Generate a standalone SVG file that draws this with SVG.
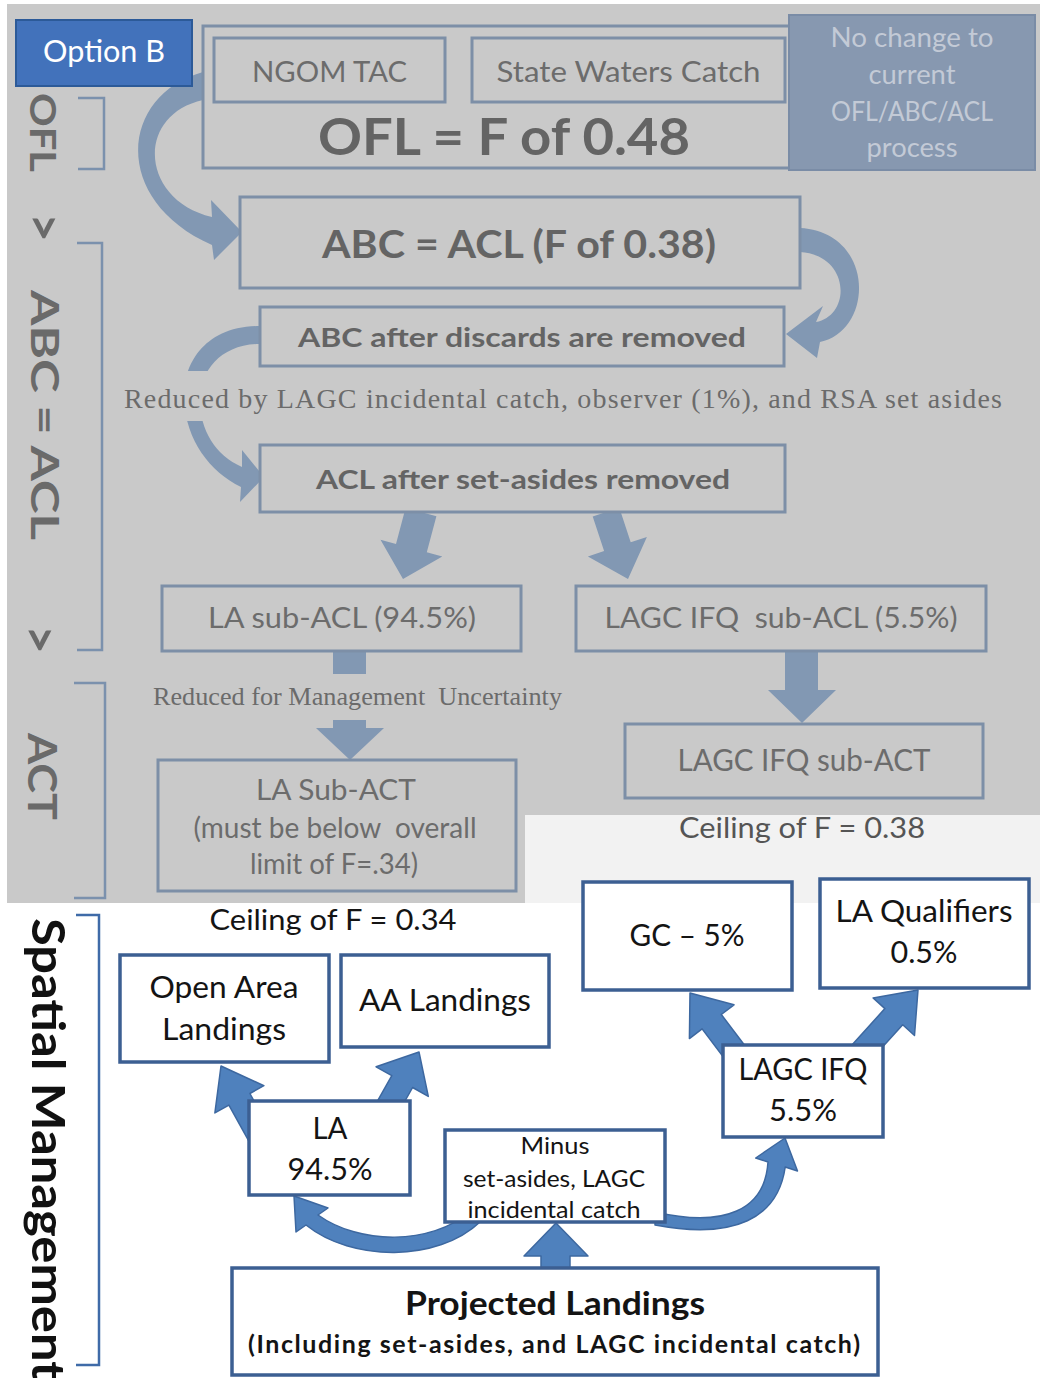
<svg xmlns="http://www.w3.org/2000/svg" width="1040" height="1378" viewBox="0 0 1040 1378">
<style>
.s{font-family:Lato,'Liberation Sans',sans-serif}
.tm{font-family:'Liberation Serif','Times New Roman',serif;fill:#6b6b6b}
.gbox{fill:#c9c9c9;stroke:#7d8fa7;stroke-width:3}
.gt{fill:#6c6c6c}
.gb{fill:#646464;font-weight:bold}
.wbox{fill:#fff;stroke:#3c5f92;stroke-width:3.5}
.bt{fill:#141414}
.at{fill:#8298b3}
.ab{fill:#4f81bd;stroke:#3d68a0;stroke-width:1.5;stroke-linejoin:round}
.br{fill:none;stroke:#7b91ad;stroke-width:2.5}
.lbl{fill:#6a6a6a;font-weight:bold}
</style>
<rect x="0" y="0" width="1040" height="1378" fill="#ffffff"/>
<path d="M7,4 H1040 V815 H525 V903 H7 Z" fill="#c9c9c9"/>
<rect x="525" y="815" width="515" height="88" fill="#f2f2f2"/>

<g id="connectors">
  <path class="at" d="M203,72 C120,95 110,200 212,245 L214,260 L242,232 L211,200 L212,217 C140,200 135,115 203,100 Z"/>
  <path class="at" d="M800,228 C875,232 875,330 820,342 L817,358 L786,334 L823,306 L816,322 C852,315 850,255 800,252 Z"/>
  <path class="at" d="M260,326 C200,326 182,370 184,400 C186,440 210,472 241,487 L240,502 L264,477 L242,450 L242,467 C215,455 200,430 200,400 C200,370 222,344 260,344 Z"/>
  <polygon class="at" points="405.6,507.8 396,543.9 380.5,539.7 403,579 442.3,556.5 426.8,552.3 436.4,516.2"/>
  <polygon class="at" points="592.7,516.4 604.1,551.1 587.9,556.4 628,579 646.9,537 630.7,542.3 619.3,507.6"/>
  <polygon class="at" points="333,651 366,651 366,728 384,728 350,760 316,728 333,728"/>
  <polygon class="at" points="785,651 818,651 818,690 836,690 802,723 768,690 785,690"/>

  <polygon class="ab" points="272.5,1134.2 249.9,1093.5 263.9,1085.7 221,1066 214.9,1112.9 228.9,1105.1 251.5,1145.8"/>
  <polygon class="ab" points="395.4,1117.9 412.6,1087.5 428.3,1096.4 419,1052 376.1,1066.8 391.8,1075.7 374.6,1106.1"/>
  <polygon class="ab" points="761.6,1067.8 721.3,1014.5 734,1004.8 690,993 689.4,1038.6 702.1,1028.9 742.4,1082.2"/>
  <polygon class="ab" points="858.9,1073.1 902.7,1024.8 914.5,1035.5 918,990 873.1,997.9 884.9,1008.6 841.1,1056.9"/>
  <path class="ab" d="M470,1212 C430,1245 360,1245 318,1215 L328,1208 L294,1196 L296,1232 L306,1225 C352,1262 438,1262 480,1222 Z"/>
  <path class="ab" d="M655,1212 C725,1228 765,1210 768,1162 L755.7,1158 L785,1138 L797.5,1171 L785.2,1167 C778,1218 735,1240 655,1225 Z"/>
  <polygon class="ab" points="541,1270 541,1256 524,1256 556,1223 588,1256 570,1256 570,1270"/>
</g>

<g id="side-labels">
  <text class="s lbl" font-size="36" textLength="79" lengthAdjust="spacingAndGlyphs" transform="translate(30,93) rotate(90)">OFL</text>
  <text class="s lbl" font-size="50" transform="translate(27,213) rotate(90)">&gt;</text>
  <text class="s lbl" font-size="38" textLength="250" lengthAdjust="spacingAndGlyphs" transform="translate(31,290) rotate(90)">ABC = ACL</text>
  <text class="s lbl" font-size="50" transform="translate(23,625) rotate(90)">&gt;</text>
  <text class="s lbl" font-size="40" textLength="87" lengthAdjust="spacingAndGlyphs" transform="translate(28,733) rotate(90)">ACT</text>
  <text class="s" font-size="46" font-weight="bold" fill="#111" textLength="462" lengthAdjust="spacingAndGlyphs" transform="translate(32,918) rotate(90)">Spatial Management</text>
  <path class="br" d="M78,98 H104 V169 H78"/>
  <path class="br" d="M77,243 H102 V650 H77"/>
  <path class="br" d="M74,683 H105 V898 H74"/>
  <path class="br" d="M76,915 H99 V1365 H76" style="stroke:#3f6ba8"/>
</g>

<g id="ofl">
  <rect class="gbox" x="203" y="26" width="597" height="142"/>
  <text class="s gb" x="504" y="155" font-size="51" text-anchor="middle" textLength="372" lengthAdjust="spacingAndGlyphs">OFL = F of 0.48</text>
</g>
<g id="ngom-tac">
  <rect class="gbox" x="214" y="38" width="231" height="64"/>
  <text class="s gt" x="329.5" y="82" font-size="28" text-anchor="middle" textLength="155" lengthAdjust="spacingAndGlyphs">NGOM TAC</text>
</g>
<g id="state-waters">
  <rect class="gbox" x="472" y="38" width="313" height="64"/>
  <text class="s gt" x="628.5" y="82" font-size="28" text-anchor="middle" textLength="264" lengthAdjust="spacingAndGlyphs">State Waters Catch</text>
</g>
<g id="no-change">
  <rect x="789" y="15" width="246" height="155" fill="#8798b0" stroke="#7a8ca6" stroke-width="2"/>
  <g class="s" font-size="26" fill="#c3cad6" text-anchor="middle">
    <text x="912" y="47" textLength="163" lengthAdjust="spacingAndGlyphs">No change to</text>
    <text x="912" y="84" textLength="87" lengthAdjust="spacingAndGlyphs">current</text>
    <text x="912" y="121" textLength="162" lengthAdjust="spacingAndGlyphs">OFL/ABC/ACL</text>
    <text x="912" y="157" textLength="91" lengthAdjust="spacingAndGlyphs">process</text>
  </g>
</g>
<g id="option-b">
  <rect x="16" y="20" width="176" height="66" fill="#4272bb" stroke="#2c5a98" stroke-width="2"/>
  <text class="s" x="104" y="62" font-size="30" fill="#ffffff" text-anchor="middle" textLength="122" lengthAdjust="spacingAndGlyphs">Option B</text>
</g>
<g id="abc-acl">
  <rect class="gbox" x="240" y="197" width="560" height="91"/>
  <text class="s gb" x="519" y="258" font-size="38" text-anchor="middle" textLength="394" lengthAdjust="spacingAndGlyphs">ABC = ACL (F of 0.38)</text>
</g>
<g id="abc-discards">
  <rect class="gbox" x="260" y="307" width="524" height="59"/>
  <text class="s gb" x="522" y="347" font-size="27" text-anchor="middle" textLength="448" lengthAdjust="spacingAndGlyphs">ABC after discards are removed</text>
</g>
<g id="reduced-label">
  <rect x="112" y="371" width="898" height="50" fill="#c9c9c9"/>
  <text class="tm" x="124" y="408" font-size="28" textLength="878" lengthAdjust="spacing">Reduced by LAGC incidental catch, observer (1%), and RSA set asides</text>
</g>
<g id="acl-setasides">
  <rect class="gbox" x="260" y="445" width="525" height="67"/>
  <text class="s gb" x="523" y="489" font-size="27" text-anchor="middle" textLength="414" lengthAdjust="spacingAndGlyphs">ACL after set-asides removed</text>
</g>
<g id="la-sub-acl">
  <rect class="gbox" x="162" y="586" width="359" height="65"/>
  <text class="s gt" x="342" y="628" font-size="28" text-anchor="middle" textLength="268" lengthAdjust="spacingAndGlyphs">LA sub-ACL (94.5%)</text>
</g>
<g id="lagc-sub-acl">
  <rect class="gbox" x="576" y="586" width="410" height="65"/>
  <text class="s gt" x="781" y="628" font-size="28" text-anchor="middle" textLength="353" lengthAdjust="spacingAndGlyphs">LAGC IFQ&#160; sub-ACL (5.5%)</text>
</g>
<g id="mgmt-label">
  <rect x="148" y="674" width="420" height="46" fill="#c9c9c9"/>
  <text class="tm" x="153" y="705" font-size="25" textLength="409" lengthAdjust="spacingAndGlyphs">Reduced for Management&#160; Uncertainty</text>
</g>
<g id="la-sub-act">
  <rect class="gbox" x="158" y="760" width="358" height="131"/>
  <g class="s gt" font-size="28" text-anchor="middle">
    <text x="336" y="800" textLength="160" lengthAdjust="spacingAndGlyphs">LA Sub-ACT</text>
    <text x="335" y="838" textLength="283" lengthAdjust="spacingAndGlyphs">(must be below&#160; overall</text>
    <text x="334" y="874" textLength="168" lengthAdjust="spacingAndGlyphs">limit of F=.34)</text>
  </g>
</g>
<g id="lagc-sub-act">
  <rect class="gbox" x="625" y="724" width="358" height="74"/>
  <text class="s gt" x="804" y="771" font-size="30" text-anchor="middle" textLength="253" lengthAdjust="spacingAndGlyphs">LAGC IFQ sub-ACT</text>
</g>
<g id="ceiling-038">
  <text class="s" x="802" y="838" font-size="29" fill="#555" text-anchor="middle" textLength="246" lengthAdjust="spacingAndGlyphs">Ceiling of F = 0.38</text>
</g>
<g id="ceiling-034">
  <text class="s bt" x="333" y="930" font-size="29" text-anchor="middle" textLength="247" lengthAdjust="spacingAndGlyphs">Ceiling of F = 0.34</text>
</g>

<g id="gc">
  <rect class="wbox" x="583" y="882" width="209" height="108"/>
  <text class="s bt" x="687" y="946" font-size="30" text-anchor="middle" textLength="115" lengthAdjust="spacingAndGlyphs">GC – 5%</text>
</g>
<g id="la-qualifiers">
  <rect class="wbox" x="820" y="879" width="209" height="109"/>
  <g class="s bt" font-size="30" text-anchor="middle">
    <text x="924" y="922" textLength="177" lengthAdjust="spacingAndGlyphs">LA Qualifiers</text>
    <text x="924" y="963" textLength="67" lengthAdjust="spacingAndGlyphs">0.5%</text>
  </g>
</g>
<g id="open-area">
  <rect class="wbox" x="120" y="955" width="209" height="107"/>
  <g class="s bt" font-size="30" text-anchor="middle">
    <text x="224" y="998" textLength="149" lengthAdjust="spacingAndGlyphs">Open Area</text>
    <text x="224" y="1040" textLength="124" lengthAdjust="spacingAndGlyphs">Landings</text>
  </g>
</g>
<g id="aa-landings">
  <rect class="wbox" x="341" y="955" width="208" height="92"/>
  <text class="s bt" x="445" y="1011" font-size="30" text-anchor="middle" textLength="172" lengthAdjust="spacingAndGlyphs">AA Landings</text>
</g>
<g id="la">
  <rect class="wbox" x="249" y="1101" width="161" height="94"/>
  <g class="s bt" font-size="30" text-anchor="middle">
    <text x="330" y="1139" textLength="35" lengthAdjust="spacingAndGlyphs">LA</text>
    <text x="330" y="1180" textLength="85" lengthAdjust="spacingAndGlyphs">94.5%</text>
  </g>
</g>
<g id="lagc-ifq">
  <rect class="wbox" x="723" y="1045" width="160" height="92"/>
  <g class="s bt" font-size="30" text-anchor="middle">
    <text x="803" y="1080" textLength="129" lengthAdjust="spacingAndGlyphs">LAGC IFQ</text>
    <text x="803" y="1121" textLength="68" lengthAdjust="spacingAndGlyphs">5.5%</text>
  </g>
</g>
<g id="minus">
  <rect class="wbox" x="445" y="1130" width="220" height="92"/>
  <g class="s bt" font-size="23" text-anchor="middle">
    <text x="555" y="1154" textLength="69" lengthAdjust="spacingAndGlyphs">Minus</text>
    <text x="554" y="1187" textLength="182" lengthAdjust="spacingAndGlyphs">set-asides, LAGC</text>
    <text x="554" y="1218" textLength="173" lengthAdjust="spacingAndGlyphs">incidental catch</text>
  </g>
</g>
<g id="projected">
  <rect class="wbox" x="232" y="1268" width="646" height="107"/>
  <g class="s bt" font-weight="bold" text-anchor="middle">
    <text x="555" y="1315" font-size="33" textLength="300" lengthAdjust="spacingAndGlyphs">Projected Landings</text>
    <text x="554" y="1353" font-size="25" textLength="612" lengthAdjust="spacing">(Including set-asides, and LAGC incidental catch)</text>
  </g>
</g>
</svg>
